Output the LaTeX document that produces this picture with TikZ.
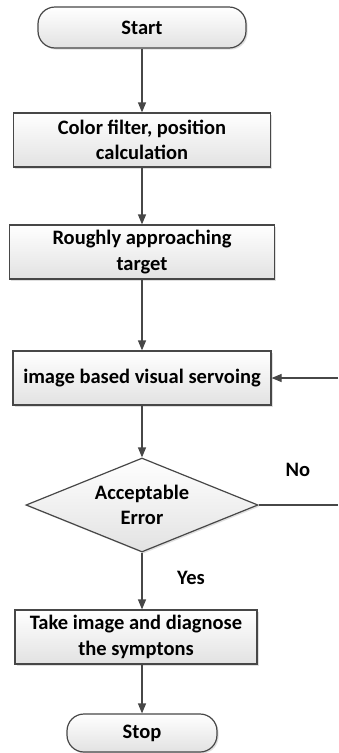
\documentclass[tikz,border=0pt]{standalone}
\usepackage{fontspec}
\setmainfont{Carlito}
\usetikzlibrary{shapes.geometric, arrows.meta, shadows}

\definecolor{edge}{HTML}{474747}
\definecolor{boxbot}{HTML}{E2E2E2}

\tikzset{
  txt/.style={font=\bfseries\fontsize{20.5}{25.5}\selectfont},
  every node/.style={txt, align=center, text=black},
  flowbox/.style={draw=edge, line width=1.2pt, inner sep=0pt,
    top color=white, bottom color=boxbot,
    drop shadow={shadow xshift=1.6pt, shadow yshift=-1.6pt, opacity=0.25, fill=gray}},
  terminal/.style={flowbox, rounded corners=17pt},
  decision/.style={flowbox, diamond, aspect=2.47},
  flow/.style={draw=edge, line width=1.2pt, -{Triangle[length=10pt, width=8pt]}},
  plainline/.style={draw=edge, line width=1.2pt},
  tag/.style={txt}
}

\begin{document}
\begin{tikzpicture}[x=1pt, y=-1pt]
  \useasboundingbox (0,0) rectangle (338,753);

  \node[terminal, minimum width=208pt, minimum height=41pt] (start) at (142,27.5) {Start};
  \node[flowbox, minimum width=257pt, minimum height=54pt] (filter) at (142,140) {Color filter, position\\calculation};
  \node[flowbox, minimum width=265pt, minimum height=54pt] (approach) at (142,252) {Roughly approaching\\target};
  \node[flowbox, minimum width=258pt, minimum height=54pt] (servo) at (142,378) {image based visual servoing};
  \node[decision, minimum width=232pt, minimum height=94pt] (check) at (142,505) {Acceptable\\Error};
  \node[flowbox, minimum width=242pt, minimum height=54pt] (diag) at (136,637) {Take image and diagnose\\the symptons};
  \node[terminal, minimum width=150pt, minimum height=38pt] (stop) at (142,733) {Stop};

  % loop back from the decision to the servoing step
  \coordinate (loopA) at (338,505);
  \coordinate (loopB) at (338,378);

  \draw[flow] (start) -- (filter);
  \draw[flow] (filter) -- (approach);
  \draw[flow] (approach) -- (servo);
  \draw[flow] (servo) -- (check);
  \draw[flow] (check) -- (check |- diag.north);
  \draw[flow] (check |- diag.south) -- (stop);
  \draw[plainline] (check.east) -- (loopA);
  \draw[flow] (loopB) -- (servo.east);

  \node[tag] (no) at (298,470) {No};
  \node[tag] (yes) at (191,578) {Yes};
\end{tikzpicture}
\end{document}
